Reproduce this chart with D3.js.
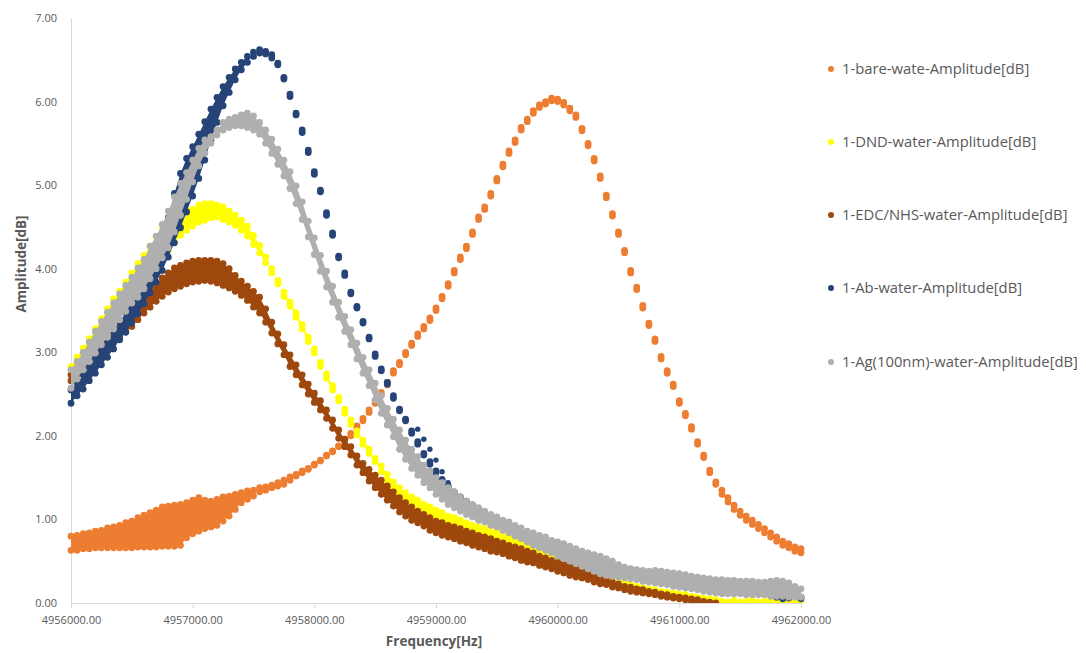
<!DOCTYPE html>
<html><head><meta charset="utf-8">
<script src="https://cdn.jsdelivr.net/npm/d3@7"></script>
<style>
html,body{margin:0;padding:0;background:#fff;}
svg{display:block;}
</style></head><body>
<svg id="chart" width="1086" height="653"></svg>
<script>
// ---------- data ----------
const freq = [
4956000,4956050,4956100,4956150,4956200,4956250,4956300,4956350,4956400,4956450,
4956500,4956550,4956600,4956650,4956700,4956750,4956800,4956850,4956900,4956950,
4957000,4957050,4957100,4957150,4957200,4957250,4957300,4957350,4957400,4957450,
4957500,4957550,4957600,4957650,4957700,4957750,4957800,4957850,4957900,4957950,
4958000,4958050,4958100,4958150,4958200,4958250,4958300,4958350,4958400,4958450,
4958500,4958550,4958600,4958650,4958700,4958750,4958800,4958850,4958900,4958950,
4959000,4959050,4959100,4959150,4959200,4959250,4959300,4959350,4959400,4959450,
4959500,4959550,4959600,4959650,4959700,4959750,4959800,4959850,4959900,4959950,
4960000,4960050,4960100,4960150,4960200,4960250,4960300,4960350,4960400,4960450,
4960500,4960550,4960600,4960650,4960700,4960750,4960800,4960850,4960900,4960950,
4961000,4961050,4961100,4961150,4961200,4961250,4961300,4961350,4961400,4961450,
4961500,4961550,4961600,4961650,4961700,4961750,4961800,4961850,4961900,4961950,
4962000];

const bareUpper = [
0.80,0.81,0.83,0.84,0.86,0.87,0.90,0.91,0.93,0.96,
0.98,1.02,1.05,1.08,1.11,1.15,1.16,1.17,1.18,1.20,
1.23,1.26,1.23,1.22,1.24,1.27,1.28,1.30,1.32,1.34,
1.35,1.38,1.39,1.41,1.44,1.47,1.51,1.54,1.58,1.61,
1.66,1.71,1.77,1.82,1.88,1.95,2.03,2.12,2.21,2.31,
2.42,2.52,2.64,2.78,2.88,3.00,3.11,3.22,3.31,3.41,
3.53,3.67,3.82,3.98,4.14,4.27,4.44,4.62,4.74,4.90,
5.08,5.25,5.41,5.54,5.69,5.79,5.89,5.96,6.00,6.04,
6.03,5.99,5.92,5.84,5.68,5.50,5.32,5.11,4.88,4.66,
4.44,4.22,3.98,3.78,3.56,3.35,3.16,2.95,2.78,2.62,
2.42,2.27,2.11,1.93,1.77,1.59,1.45,1.35,1.26,1.17,
1.10,1.04,0.99,0.94,0.89,0.84,0.79,0.74,0.71,0.67,
0.65];
const bareLower = [
0.63,0.63,0.65,0.65,0.66,0.66,0.66,0.66,0.66,0.66,
0.66,0.67,0.67,0.67,0.67,0.68,0.68,0.68,0.69,0.78,
0.83,0.86,0.89,0.91,0.93,0.98,1.04,1.12,1.20,1.24,
1.28,1.33,1.35,1.38,1.40,1.42,1.47,1.52,1.56,1.60,
1.65,1.70,1.76,1.81,1.87,1.92,2.00,2.09,2.18,2.28,
2.39,2.49,2.61,2.75,2.85,2.97,3.08,3.19,3.28,3.38,
3.50,3.64,3.79,3.95,4.11,4.24,4.41,4.59,4.71,4.87,
5.05,5.22,5.38,5.51,5.66,5.76,5.86,5.93,5.97,6.01,
6.00,5.96,5.89,5.81,5.65,5.47,5.29,5.08,4.85,4.63,
4.41,4.19,3.95,3.75,3.53,3.32,3.13,2.92,2.75,2.59,
2.39,2.24,2.08,1.90,1.74,1.56,1.42,1.30,1.21,1.12,
1.05,0.99,0.94,0.89,0.84,0.79,0.74,0.69,0.66,0.62,
0.60];

const dndUpper = [
2.83,2.94,3.05,3.16,3.28,3.40,3.52,3.64,3.73,3.84,
3.95,4.06,4.16,4.27,4.38,4.47,4.55,4.61,4.65,4.69,
4.71,4.76,4.78,4.78,4.76,4.74,4.69,4.64,4.58,4.51,
4.40,4.28,4.14,4.00,3.86,3.72,3.60,3.47,3.33,3.18,
3.04,2.88,2.74,2.60,2.46,2.32,2.19,2.06,1.95,1.84,
1.73,1.64,1.54,1.45,1.38,1.32,1.27,1.23,1.18,1.15,
1.11,1.08,1.04,1.02,0.99,0.96,0.93,0.91,0.89,0.86,
0.84,0.81,0.79,0.77,0.74,0.72,0.68,0.66,0.63,0.60,
0.57,0.54,0.50,0.47,0.43,0.39,0.36,0.33,0.31,0.29,
0.26,0.24,0.22,0.20,0.18,0.17,0.16,0.14,0.13,0.12,
0.11,0.10,0.08,0.07,0.06,0.05,0.04,0.02,0.01,0.03,
0.01,0.02,0.03,0.01,0.02,0.02,0.01,0.03,0.02,0.01,
0.02];
const dndLower = [
2.74,2.83,2.94,3.04,3.13,3.24,3.36,3.47,3.56,3.66,
3.74,3.83,3.91,3.98,4.06,4.14,4.22,4.32,4.40,4.46,
4.51,4.56,4.58,4.61,4.62,4.59,4.56,4.52,4.46,4.39,
4.29,4.19,4.07,3.95,3.82,3.67,3.55,3.42,3.28,3.13,
2.99,2.83,2.69,2.55,2.42,2.27,2.14,2.01,1.90,1.79,
1.69,1.57,1.47,1.38,1.30,1.24,1.20,1.16,1.11,1.08,
1.04,1.00,0.97,0.94,0.92,0.89,0.86,0.84,0.81,0.79,
0.77,0.74,0.72,0.69,0.67,0.65,0.61,0.59,0.56,0.53,
0.50,0.49,0.45,0.42,0.38,0.35,0.31,0.29,0.26,0.24,
0.22,0.19,0.17,0.16,0.13,0.12,0.11,0.10,0.08,0.07,
0.06,0.05,0.04,0.02,0.01,0.00,-0.01,-0.02,-0.02,-0.02,
-0.02,-0.02,-0.02,-0.02,-0.02,-0.02,-0.02,-0.02,-0.02,-0.02,
-0.02];

const edcUpper = [
2.73,2.80,2.87,2.94,3.01,3.10,3.17,3.24,3.31,3.39,
3.47,3.55,3.65,3.73,3.82,3.89,3.95,4.01,4.04,4.07,
4.09,4.10,4.10,4.10,4.09,4.06,4.00,3.92,3.85,3.79,
3.73,3.66,3.52,3.36,3.22,3.09,2.97,2.85,2.73,2.62,
2.51,2.42,2.31,2.19,2.07,1.96,1.87,1.76,1.67,1.60,
1.53,1.47,1.40,1.33,1.26,1.20,1.15,1.10,1.06,1.02,
0.98,0.96,0.93,0.91,0.89,0.86,0.84,0.81,0.79,0.77,
0.74,0.72,0.69,0.67,0.65,0.62,0.60,0.56,0.54,0.51,
0.49,0.47,0.44,0.42,0.38,0.35,0.32,0.30,0.28,0.25,
0.23,0.20,0.19,0.17,0.16,0.14,0.13,0.11,0.10,0.08,
0.07,0.06,0.05,0.04,0.02,0.01,0.00,-0.08,-0.09,-0.10,
-0.10,-0.11,-0.12,-0.12,-0.13,-0.13,-0.14,-0.14,-0.15,-0.15,
-0.16];
const edcLower = [
2.66,2.73,2.80,2.87,2.94,3.00,3.07,3.12,3.19,3.25,
3.31,3.39,3.47,3.54,3.61,3.67,3.72,3.76,3.79,3.82,
3.84,3.85,3.86,3.85,3.83,3.80,3.77,3.73,3.68,3.62,
3.54,3.47,3.36,3.23,3.10,2.97,2.83,2.73,2.61,2.50,
2.40,2.31,2.21,2.09,1.97,1.87,1.77,1.65,1.56,1.46,
1.38,1.30,1.23,1.16,1.09,1.04,0.99,0.96,0.92,0.87,
0.84,0.81,0.79,0.77,0.74,0.72,0.69,0.67,0.65,0.62,
0.61,0.59,0.56,0.54,0.51,0.49,0.48,0.45,0.43,0.41,
0.38,0.36,0.33,0.31,0.30,0.28,0.25,0.23,0.22,0.19,
0.18,0.16,0.14,0.13,0.12,0.11,0.10,0.08,0.07,0.06,
0.05,0.04,0.02,0.01,0.00,-0.01,-0.02,-0.10,-0.11,-0.12,
-0.12,-0.13,-0.14,-0.14,-0.15,-0.15,-0.16,-0.16,-0.17,-0.17,
-0.18];

const abUpper = [
2.55,2.63,2.73,2.82,2.92,3.03,3.13,3.24,3.36,3.48,
3.61,3.74,3.89,4.04,4.22,4.41,4.61,4.90,5.14,5.32,
5.46,5.61,5.76,5.91,6.05,6.18,6.29,6.39,6.47,6.54,
6.59,6.62,6.60,6.56,6.46,6.29,6.09,5.86,5.66,5.42,
5.16,4.94,4.67,4.43,4.15,3.95,3.72,3.55,3.37,3.18,
2.98,2.80,2.64,2.48,2.32,2.20,2.06,1.93,1.79,1.69,
1.58,1.48,1.40,1.33,1.27,1.22,1.17,1.12,1.08,1.03,
0.99,0.96,0.92,0.89,0.85,0.81,0.78,0.74,0.71,0.67,
0.63,0.60,0.56,0.53,0.50,0.48,0.45,0.43,0.42,0.41,
0.39,0.37,0.36,0.35,0.33,0.32,0.31,0.29,0.28,0.25,
0.24,0.23,0.22,0.20,0.19,0.18,0.18,0.19,0.18,0.17,
0.17,0.16,0.14,0.14,0.13,0.12,0.10,0.07,0.08,0.12,
0.07];
const abLower = [
2.39,2.48,2.56,2.66,2.75,2.85,2.94,3.04,3.15,3.24,
3.35,3.46,3.58,3.71,3.84,3.98,4.14,4.31,4.49,4.68,
4.87,5.08,5.30,5.54,5.75,5.95,6.11,6.26,6.38,6.47,
6.54,6.58,6.57,6.52,6.44,6.27,6.06,5.84,5.63,5.39,
5.13,4.92,4.64,4.40,4.13,3.92,3.70,3.53,3.35,3.16,
2.95,2.78,2.62,2.45,2.30,2.18,2.03,1.90,1.77,1.66,
1.56,1.46,1.38,1.30,1.24,1.20,1.15,1.10,1.05,1.00,
0.97,0.93,0.90,0.86,0.83,0.79,0.75,0.72,0.68,0.65,
0.61,0.57,0.54,0.50,0.48,0.45,0.43,0.41,0.39,0.38,
0.37,0.35,0.33,0.32,0.31,0.30,0.29,0.26,0.25,0.23,
0.22,0.20,0.19,0.18,0.17,0.16,0.16,0.17,0.16,0.14,
0.14,0.13,0.12,0.12,0.11,0.10,0.07,0.05,0.06,0.08,
0.05];
// a few stray points of another Ab sweep, right of the main trace
const abStrayFreq = [4958850,4958900,4958950,4959000,4959050,4959100,4959150];
const abStrayAmp  = [2.08,1.96,1.84,1.71,1.57,1.44,1.33];

const agUpper = [
2.79,2.89,3.00,3.12,3.25,3.37,3.48,3.59,3.70,3.80,
3.90,4.01,4.11,4.27,4.39,4.53,4.69,4.86,5.02,5.15,
5.30,5.44,5.54,5.58,5.66,5.75,5.79,5.81,5.84,5.86,
5.83,5.75,5.66,5.55,5.43,5.30,5.16,4.99,4.80,4.57,
4.37,4.16,3.97,3.79,3.60,3.43,3.27,3.11,2.94,2.79,
2.63,2.48,2.33,2.20,2.07,1.95,1.84,1.75,1.65,1.58,
1.50,1.44,1.38,1.33,1.27,1.22,1.18,1.14,1.10,1.06,
1.03,0.99,0.97,0.93,0.90,0.86,0.84,0.81,0.79,0.75,
0.73,0.71,0.68,0.65,0.62,0.60,0.58,0.56,0.53,0.50,
0.46,0.43,0.41,0.40,0.39,0.38,0.39,0.38,0.37,0.36,
0.35,0.34,0.32,0.31,0.30,0.29,0.28,0.28,0.27,0.27,
0.26,0.26,0.26,0.25,0.25,0.26,0.27,0.26,0.24,0.20,
0.17];
const agLower = [
2.57,2.68,2.79,2.89,2.99,3.09,3.18,3.28,3.39,3.49,
3.59,3.66,3.76,3.88,4.00,4.13,4.25,4.44,4.64,4.83,
5.04,5.23,5.38,5.50,5.60,5.66,5.69,5.71,5.71,5.69,
5.66,5.61,5.50,5.38,5.25,5.11,4.96,4.78,4.59,4.38,
4.17,3.97,3.78,3.60,3.42,3.25,3.09,2.92,2.75,2.60,
2.43,2.27,2.13,1.99,1.84,1.72,1.61,1.53,1.44,1.38,
1.30,1.24,1.18,1.14,1.10,1.06,1.03,0.99,0.97,0.93,
0.91,0.87,0.84,0.80,0.77,0.73,0.69,0.66,0.63,0.60,
0.56,0.53,0.50,0.47,0.44,0.41,0.38,0.35,0.33,0.32,
0.31,0.30,0.29,0.28,0.26,0.25,0.24,0.23,0.22,0.20,
0.19,0.18,0.17,0.16,0.14,0.13,0.12,0.11,0.11,0.11,
0.11,0.10,0.10,0.10,0.10,0.08,0.08,0.08,0.07,0.07,
0.07];

const seriesNames = [
  "1-bare-wate-Amplitude[dB]",
  "1-DND-water-Amplitude[dB]",
  "1-EDC/NHS-water-Amplitude[dB]",
  "1-Ab-water-Amplitude[dB]",
  "1-Ag(100nm)-water-Amplitude[dB]"
];
const seriesColors = ["#ED7D31","#FFFF00","#9E480E","#264478","#AFAFAF"];
const xTicks = [4956000,4957000,4958000,4959000,4960000,4961000,4962000];
const yTicks = [0,1,2,3,4,5,6,7];

// ---------- chart ----------
const W = 1086, H = 653;
const FONT = "'Open Sans', Lato, 'Liberation Sans', sans-serif";
const svg = d3.select('#chart');
const x = d3.scaleLinear().domain([4956000, 4962000]).range([71, 801]);
const y = d3.scaleLinear().domain([0, 7]).range([603, 18]);

const seriesData = [
  {upper: bareUpper, lower: bareLower},
  {upper: dndUpper, lower: dndLower},
  {upper: edcUpper, lower: edcLower},
  {upper: abUpper, lower: abLower},
  {upper: agUpper, lower: agLower}
];

svg.append('defs').append('clipPath').attr('id','clip')
  .append('rect').attr('x',0).attr('y',0).attr('width',W).attr('height',603);

// axes
const gy = svg.append('g').attr('transform','translate(71,0)')
  .call(d3.axisLeft(y).tickValues(yTicks).tickFormat(d3.format('.2f')).tickSize(0).tickSizeOuter(0).tickPadding(14));
gy.select('.domain').attr('stroke','#d9d9d9');
gy.selectAll('text').attr('fill','#595959').attr('font-family',FONT).attr('font-size','11px');

const plot = svg.append('g').attr('clip-path','url(#clip)');
const R = 3.4;
seriesData.forEach((s, si) => {
  const col = seriesColors[si];
  const g = plot.append('g');
  const rows = freq.map((f,i) => ({f, u: s.upper[i], l: s.lower[i]}));
  // solid band where the repeated sweeps spread apart
  g.append('path').datum(rows)
    .attr('d', d3.area().defined(d => Math.abs(d.u - d.l) > 0.05)
      .x(d => x(d.f)).y0(d => y(d.l)).y1(d => y(d.u)))
    .attr('fill', col).attr('stroke', 'none');
  g.selectAll('circle.u').data(rows).join('circle').attr('class','u')
    .attr('cx', d => x(d.f)).attr('cy', d => y(d.u)).attr('r', R).attr('fill', col);
  g.selectAll('circle.l').data(rows).join('circle').attr('class','l')
    .attr('cx', d => x(d.f)).attr('cy', d => y(d.l)).attr('r', R).attr('fill', col);
  if (si === 3) {
    g.selectAll('circle.s').data(abStrayFreq.map((f,i)=>({f, v: abStrayAmp[i]})))
      .join('circle').attr('class','s')
      .attr('cx', d => x(d.f)).attr('cy', d => y(d.v)).attr('r', 2.7).attr('fill', col);
  }
});

const gx = svg.append('g').attr('transform','translate(0,603)')
  .call(d3.axisBottom(x).tickValues(xTicks).tickFormat(d3.format('.2f')).tickSize(5).tickSizeOuter(0).tickPadding(8));
gx.select('.domain').attr('stroke','#d9d9d9');
gx.selectAll('.tick line').attr('stroke','#d9d9d9');
gx.selectAll('text').attr('fill','#595959').attr('font-family',FONT).attr('font-size','11px');

// axis titles
svg.append('text').attr('x', 434).attr('y', 646).attr('text-anchor','middle')
  .attr('font-family',FONT).attr('font-size','13.5px').attr('font-weight','bold').attr('fill','#595959')
  .text('Frequency[Hz]');
svg.append('text').attr('transform','translate(25.5,264) rotate(-90)').attr('text-anchor','middle')
  .attr('font-family',FONT).attr('font-size','13.5px').attr('font-weight','bold').attr('fill','#595959')
  .text('Amplitude[dB]');

// legend
const legY = [69, 142, 215, 288, 362];
const leg = svg.append('g');
seriesNames.forEach((n, i) => {
  leg.append('circle').attr('cx', 831).attr('cy', legY[i]).attr('r', 3).attr('fill', seriesColors[i]);
  leg.append('text').attr('x', 842).attr('y', legY[i]).attr('dy','0.35em')
    .attr('font-family',FONT).attr('font-size','14.8px').attr('fill','#595959').text(n);
});
</script></body></html>
